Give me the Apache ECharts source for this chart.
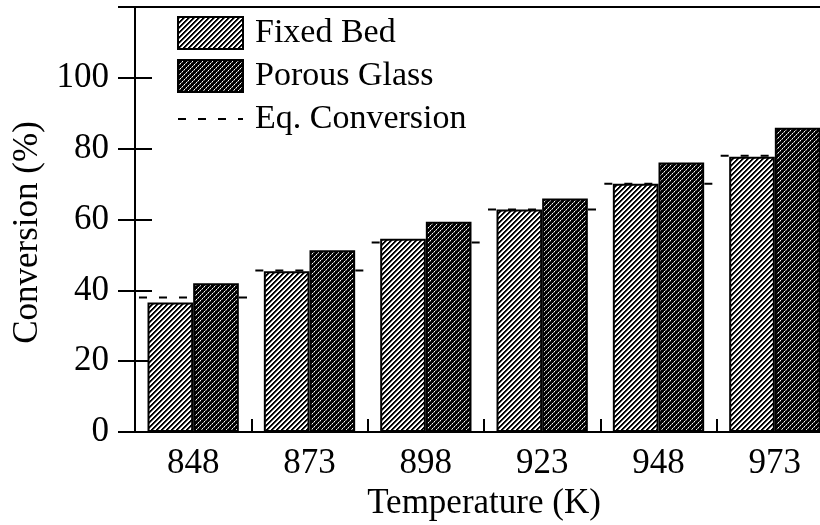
<!DOCTYPE html>
<html>
<head>
<meta charset="utf-8">
<script src="https://cdn.jsdelivr.net/npm/echarts@6/dist/echarts.min.js"></script>
<style>html,body{margin:0;padding:0;background:#fff}#c{width:820px;height:525px}</style>
</head>
<body>
<div id="c"></div>
<script>
var categories = ['848', '873', '898', '923', '948', '973'];
var fixedBed = [36.6, 45.4, 54.6, 62.8, 70.1, 77.7];
var porousGlass = [42.0, 51.3, 59.4, 65.9, 76.1, 85.9];
var eqConversion = [38.0, 45.6, 53.5, 62.8, 70.1, 78.0];
var yTickLabels = [0, 20, 40, 60, 80, 100];

function hatch(dark) {
  var s = 10, c = document.createElement('canvas');
  c.width = s; c.height = s;
  var g = c.getContext('2d');
  var img = g.createImageData(s, s);
  for (var y = 0; y < s; y++) {
    for (var x = 0; x < s; x++) {
      var d = (x + y) % 5, v;
      if (!dark) {
        v = d < 2 ? 0 : (d === 2 ? 128 : 255);
      } else {
        v = d === 0 ? (x % 2 === 0 ? 255 : 150) : (d === 1 && x % 2 === 0 ? 60 : 0);
      }
      var i = (y * s + x) * 4;
      img.data[i] = img.data[i + 1] = img.data[i + 2] = v;
      img.data[i + 3] = 255;
    }
  }
  g.putImageData(img, 0, 0);
  return { image: c, repeat: 'repeat' };
}

var font = 'Liberation Serif';
var chart = echarts.init(document.getElementById('c'), null, { renderer: 'canvas' });
chart.setOption({
  backgroundColor: '#fff',
  animation: false,
  textStyle: { fontFamily: font, color: '#000' },
  grid: {
    left: 135, right: -13, top: 7, bottom: 93, containLabel: false, outerBoundsMode: 'none',
    show: true, borderColor: '#000', borderWidth: 2, backgroundColor: 'transparent'
  },
  legend: {
    orient: 'vertical', left: 177, top: 16, padding: 0,
    itemWidth: 65, itemHeight: 32, itemGap: 9,
    data: [
      { name: 'Fixed Bed', icon: 'rect' },
      { name: 'Porous Glass', icon: 'rect' },
      { name: 'Eq. Conversion', itemStyle: { color: 'rgba(0,0,0,0)', borderWidth: 0 } }
    ],
    textStyle: { fontFamily: font, fontSize: 34, color: '#000', padding: [0, 0, 0, 7] }
  },
  xAxis: [{
    type: 'category', data: categories,
    axisLine: { lineStyle: { color: '#000', width: 2 } },
    axisTick: { alignWithLabel: false, length: 13, lineStyle: { color: '#000', width: 2 } },
    axisLabel: { fontFamily: font, fontSize: 35, color: '#000', margin: 14 },
    name: 'Temperature (K)', nameLocation: 'middle', nameGap: 53,
    nameTextStyle: { fontFamily: font, fontSize: 35, color: '#000' }
  }, {
    type: 'category', data: categories, position: 'bottom', offset: 0,
    axisLine: { show: false }, axisLabel: { show: false },
    axisTick: { show: true, inside: true, length: 13, lineStyle: { color: '#000', width: 2 } }
  }],
  yAxis: [{
    type: 'value', min: 0, max: 120, interval: 20,
    splitLine: { show: false },
    axisLine: { show: true, lineStyle: { color: '#000', width: 2 } },
    axisTick: { show: true, length: 17, lineStyle: { color: '#000', width: 2 } },
    axisLabel: {
      fontFamily: font, fontSize: 35, color: '#000', margin: 26,
      formatter: function (v) { return yTickLabels.indexOf(v) >= 0 ? String(v) : ''; }
    },
    name: 'Conversion (%)', nameLocation: 'middle', nameGap: 90,
    nameTextStyle: { fontFamily: font, fontSize: 35, color: '#000', padding: [0, 26, 0, 0] }
  }, {
    type: 'value', min: 0, max: 120, interval: 20, position: 'left', offset: 0,
    splitLine: { show: false }, axisLine: { show: false }, axisLabel: { show: false },
    axisTick: { show: true, inside: true, length: 17, lineStyle: { color: '#000', width: 2 } }
  }],
  series: [
    {
      name: 'Eq. Conversion', type: 'line', data: [null, null, null, null, null, null], symbol: 'none', symbolSize: 0,
      lineStyle: { color: '#000', width: 2, type: [8, 12] }, itemStyle: { color: '#000' }
    },
    {
      name: 'eq', type: 'custom', z: 1, data: eqConversion,
      renderItem: function (params, api) {
        var p = api.coord([api.value(0), api.value(1)]);
        var w = api.size([1, 0])[0];
        return {
          type: 'line',
          shape: { x1: p[0] - w / 2 + 4, y1: p[1], x2: p[0] + w / 2 - 2, y2: p[1] },
          style: { stroke: '#000', lineWidth: 2, lineDash: [8, 12] }
        };
      },
      encode: { x: 0, y: 1 }
    },
    {
      name: 'Fixed Bed', type: 'bar', z: 3, data: fixedBed, barGap: '0%', barCategoryGap: '21.5%',
      itemStyle: { color: hatch(false), borderColor: '#000', borderWidth: 2 }
    },
    {
      name: 'Porous Glass', type: 'bar', z: 3, data: porousGlass, barGap: '0%', barCategoryGap: '21.5%',
      itemStyle: { color: hatch(true), borderColor: '#000', borderWidth: 2 }
    }
  ]
});
</script>
</body>
</html>
